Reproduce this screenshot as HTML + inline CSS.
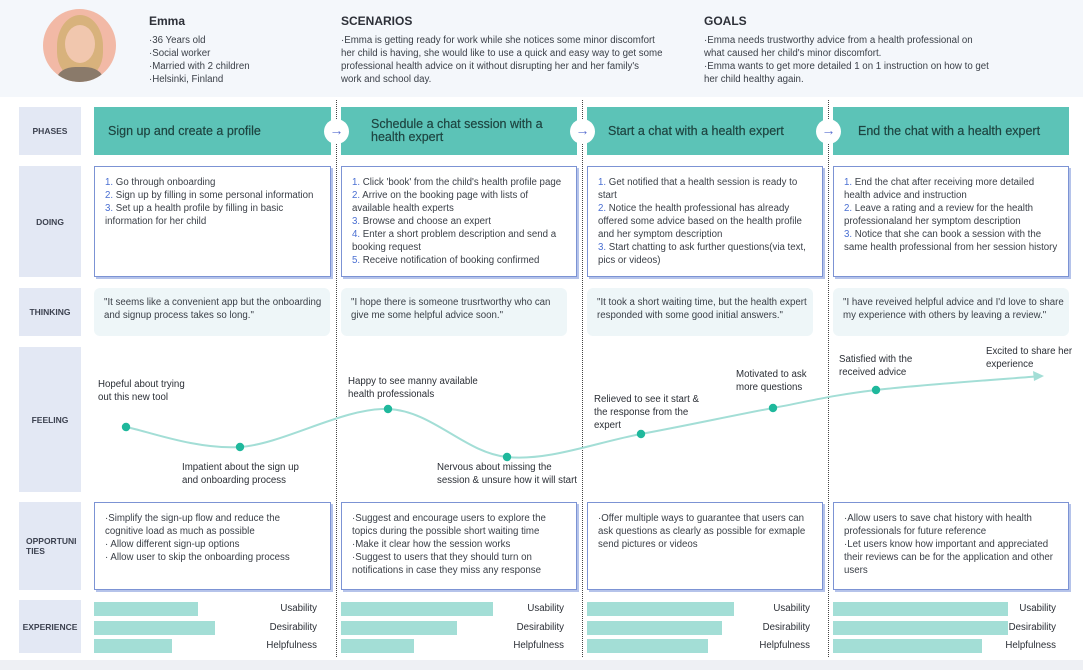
<!DOCTYPE html>
<html><head><meta charset="utf-8">
<style>
*{margin:0;padding:0;box-sizing:border-box}
body{width:1083px;height:670px;background:#fff;font-family:"Liberation Sans",sans-serif;color:#2b2f36;position:relative;overflow:hidden}
.abs{position:absolute}
.hdr{left:0;top:0;width:1083px;height:97px;background:#f4f7fb}
.h1{font-weight:bold;font-size:12px;color:#2d3038}
.t{font-size:9.7px;line-height:13px;color:#3a3f47;white-space:nowrap}
.lab{left:19px;width:62px;background:#e3e8f4;font-weight:bold;font-size:8.5px;color:#3d4250;display:flex;align-items:center;justify-content:center;text-align:center}
.phase{background:#5cc3b7;color:#1e4541;font-size:12.5px;line-height:13px;display:flex;align-items:center;padding-left:14px;height:48px;top:107px;-webkit-text-stroke:0.2px #1e4541}
.box{background:#fff;border:1px solid #7c93d4;box-shadow:2px 2px 0 #b5c3ea;padding:9px 10px}
.think{background:#eef6f8;border-radius:6px;padding:8px 10px;top:288px;height:48px}
.sep{width:0;border-left:1.3px dotted #444;top:100px;height:557px}
.arr{width:25px;height:25px;border-radius:50%;background:#fff;top:119px;color:#5a6fd0;font-size:14px;line-height:22px;text-align:center}
.n{color:#4a6fd2}
.bar{background:#a3ded6;height:14px}
.elab{font-size:9.7px;color:#2b2f36;text-align:right;width:100px}
.fl{font-size:9.7px;line-height:13px;color:#2b2f36;white-space:nowrap}
</style></head><body>
<div class="abs hdr"></div>
<div class="abs" style="left:43px;top:9px;width:73px;height:73px;border-radius:50%;background:#f2b9a6;overflow:hidden">
<div style="position:absolute;left:14px;top:6px;width:46px;height:62px;border-radius:50% 50% 40% 40%;background:#d8b27c"></div>
<div style="position:absolute;left:22px;top:16px;width:30px;height:38px;border-radius:50%;background:#f1c7ae"></div>
<div style="position:absolute;left:14px;top:58px;width:46px;height:30px;border-radius:40%;background:#8a7a6a"></div>
</div>
<div class="abs h1" style="left:149px;top:14px">Emma</div>
<div class="abs t" style="left:149px;top:34px">·36 Years old<br>·Social worker<br>·Married with 2 children<br>·Helsinki, Finland</div>
<div class="abs h1" style="left:341px;top:14px">SCENARIOS</div>
<div class="abs t" style="left:341px;top:34px">·Emma is getting ready for work while she notices some minor discomfort<br>her child is having, she would like to use a quick and easy way to get some<br>professional health advice on it without disrupting her and her family's<br>work and school day.</div>
<div class="abs h1" style="left:704px;top:14px">GOALS</div>
<div class="abs t" style="left:704px;top:34px">·Emma needs trustworthy advice from a health professional on<br>what caused her child's minor discomfort.<br>·Emma wants to get more detailed 1 on 1 instruction on how to get<br>her child healthy again.</div>

<div class="abs lab" style="top:107px;height:48px">PHASES</div>
<div class="abs lab" style="top:166px;height:111px">DOING</div>
<div class="abs lab" style="top:288px;height:48px">THINKING</div>
<div class="abs lab" style="top:347px;height:145px">FEELING</div>
<div class="abs lab" style="top:502px;height:88px;justify-content:flex-start;text-align:left;padding-left:7px">OPPORTUNI<br>TIES</div>
<div class="abs lab" style="top:600px;height:53px">EXPERIENCE</div>

<div class="abs phase" style="left:94px;width:237px">Sign up and create a profile</div>
<div class="abs phase" style="left:341px;width:236px;padding-left:30px">Schedule a chat session with a<br>health expert</div>
<div class="abs phase" style="left:587px;width:236px;padding-left:21px">Start a chat with a health expert</div>
<div class="abs phase" style="left:833px;width:236px;padding-left:25px">End the chat with a health expert</div>

<div class="abs sep" style="left:336px"></div>
<div class="abs sep" style="left:582px"></div>
<div class="abs sep" style="left:828px"></div>
<div class="abs arr" style="left:324px">→</div>
<div class="abs arr" style="left:570px">→</div>
<div class="abs arr" style="left:816px">→</div>

<div class="abs box t" style="left:94px;top:166px;width:237px;height:111px"><span class="n">1.</span> Go through onboarding<br><span class="n">2.</span> Sign up by filling in some personal information<br><span class="n">3.</span> Set up a health profile by filling in basic<br>information for her child</div>
<div class="abs box t" style="left:341px;top:166px;width:236px;height:111px"><span class="n">1.</span> Click 'book' from the child's health profile page<br><span class="n">2.</span> Arrive on the booking page with lists of<br>available health experts<br><span class="n">3.</span> Browse and choose an expert<br><span class="n">4.</span> Enter a short problem description and send a<br>booking request<br><span class="n">5.</span> Receive notification of booking confirmed</div>
<div class="abs box t" style="left:587px;top:166px;width:236px;height:111px"><span class="n">1.</span> Get notified that a health session is ready to<br>start<br><span class="n">2.</span> Notice the health professional has already<br>offered some advice based on the health profile<br>and her symptom description<br><span class="n">3.</span> Start chatting to ask further questions(via text,<br>pics or videos)</div>
<div class="abs box t" style="left:833px;top:166px;width:236px;height:111px"><span class="n">1.</span> End the chat after receiving more detailed<br>health advice and instruction<br><span class="n">2.</span> Leave a rating and a review for the health<br>professionaland her symptom description<br><span class="n">3.</span> Notice that she can book a session with the<br>same health professional from her session history</div>

<div class="abs think t" style="left:94px;width:236px">"It seems like a convenient app but the onboarding<br>and signup process takes so long."</div>
<div class="abs think t" style="left:341px;width:226px">"I hope there is someone trusrtworthy who can<br>give me some helpful advice soon."</div>
<div class="abs think t" style="left:587px;width:226px">"It took a short waiting time, but the health expert<br>responded with some good initial answers."</div>
<div class="abs think t" style="left:833px;width:236px">"I have reveived helpful advice and I'd love to share<br>my experience with others by leaving a review."</div>

<svg class="abs" style="left:0;top:0" width="1083" height="670" id="fsvg"></svg>
<div class="abs fl" style="left:98px;top:378px">Hopeful about trying<br>out this new tool</div>
<div class="abs fl" style="left:182px;top:461px">Impatient about the sign up<br>and onboarding process</div>
<div class="abs fl" style="left:348px;top:375px">Happy to see manny available<br>health professionals</div>
<div class="abs fl" style="left:437px;top:461px">Nervous about missing the<br>session &amp; unsure how it will start</div>
<div class="abs fl" style="left:594px;top:393px">Relieved to see it start &amp;<br>the response from the<br>expert</div>
<div class="abs fl" style="left:736px;top:368px">Motivated to ask<br>more questions</div>
<div class="abs fl" style="left:839px;top:353px">Satisfied with the<br>received advice</div>
<div class="abs fl" style="left:986px;top:345px">Excited to share her<br>experience</div>

<div class="abs box t" style="left:94px;top:502px;width:237px;height:88px">·Simplify the sign-up flow and reduce the<br>cognitive load as much as possible<br>· Allow different sign-up options<br>· Allow user to skip the onboarding process</div>
<div class="abs box t" style="left:341px;top:502px;width:236px;height:88px">·Suggest and encourage users to explore the<br>topics during the possible short waiting time<br>·Make it clear how the session works<br>·Suggest to users that they should turn on<br>notifications in case they miss any response</div>
<div class="abs box t" style="left:587px;top:502px;width:236px;height:88px">·Offer multiple ways to guarantee that users can<br>ask questions as clearly as possible for exmaple<br>send pictures or videos</div>
<div class="abs box t" style="left:833px;top:502px;width:236px;height:88px">·Allow users to save chat history with health<br>professionals for future reference<br>·Let users know how important and appreciated<br>their reviews can be for the application and other<br>users</div>

<div id="exp"></div>
<div class="abs" style="left:0;top:660px;width:1083px;height:10px;background:#eef0f4"></div>

<script>
// Feeling curve data
const feelingT = [32, 146, 294, 413, 547, 679, 782, 948];
const feelingScore = [43, 23, 61, 13, 36, 62, 80, 94];
// Experience bars data (% of column width)
const expMetrics = ["Usability", "Desirability", "Helpfulness"];
const usabilityVals = [44, 64, 62, 74];
const desirabilityVals = [51, 49, 57, 74];
const helpfulnessVals = [33, 31, 51, 63];

function xScale(t){return 94 + t;}
function yScale(v){return 470 - v;}
const NS="http://www.w3.org/2000/svg";
const svg=document.getElementById('fsvg');
const pts=feelingT.map((t,i)=>[xScale(t),yScale(feelingScore[i])]);
let d="M"+pts[0][0]+","+pts[0][1];
for(let i=0;i<pts.length-1;i++){
  const p0=pts[i-1]||pts[i],p1=pts[i],p2=pts[i+1],p3=pts[i+2]||p2;
  const c1x=p1[0]+(p2[0]-p0[0])/6,c1y=p1[1]+(p2[1]-p0[1])/6;
  const c2x=p2[0]-(p3[0]-p1[0])/6,c2y=p2[1]-(p3[1]-p1[1])/6;
  d+=` C${c1x},${c1y} ${c2x},${c2y} ${p2[0]},${p2[1]}`;
}
const path=document.createElementNS(NS,'path');


path.setAttribute('d',d);path.setAttribute('fill','none');path.setAttribute('stroke','#a3ded6');path.setAttribute('stroke-width','2');
svg.appendChild(path);
const last=pts[pts.length-1];
const ah=document.createElementNS(NS,'polygon');


ah.setAttribute('points',`${last[0]+2},${last[1]} ${last[0]-9},${last[1]-5} ${last[0]-8},${last[1]+5}`);
ah.setAttribute('fill','#a3ded6');
svg.appendChild(ah);
pts.slice(0,-1).forEach((p,i)=>{
  const c=document.createElementNS(NS,'circle');
  
  
  c.setAttribute('cx',p[0]);c.setAttribute('cy',p[1]);c.setAttribute('r','4.2');c.setAttribute('fill','#1fb89c');
  svg.appendChild(c);
});
const colX=[94,341,587,833];
const colW=237;
const exp=document.getElementById('exp');
const series=[usabilityVals,desirabilityVals,helpfulnessVals];
colX.forEach((x,ci)=>{
  series.forEach((vals,ri)=>{
    const top=602+ri*18.5;
    const b=document.createElement('div');
    
    
    b.className='abs bar';
    b.style.left=x+'px';b.style.top=top+'px';b.style.width=(colW*vals[ci]/100)+'px';
    exp.appendChild(b);
    const l=document.createElement('div');
    
    
    l.className='abs elab';
    l.style.left=(x+223-100)+'px';l.style.top=(top+1)+'px';
    l.textContent=expMetrics[ri];
    exp.appendChild(l);
  });
});
</script>
</body></html>
